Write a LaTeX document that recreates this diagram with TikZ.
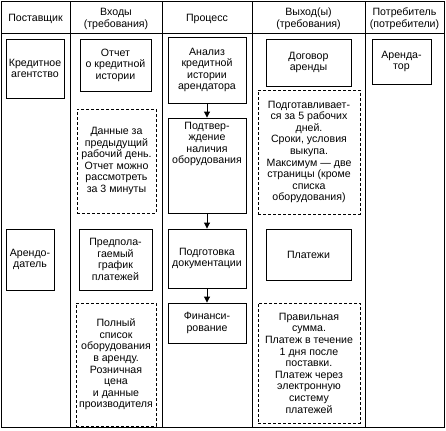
\documentclass[tikz,border=0pt]{standalone}
\usepackage{fontspec}
\setmainfont{Liberation Sans}
\usetikzlibrary{arrows.meta}
\begin{document}
\begin{tikzpicture}[x=1bp,y=-1bp,
  every node/.style={font=\fontsize{10.6bp}{11.6bp}\selectfont, align=center, inner sep=0pt},
  solidbox/.style={draw, line width=0.9bp},
  dashbox/.style={draw, line width=0.9bp, dash pattern=on 3bp off 2bp},
  frame/.style={line width=0.9bp},
  flow/.style={line width=0.9bp, -{Triangle[length=6bp,width=6bp]}}]
\useasboundingbox (0,0) rectangle (446,430);
% frame
\draw[frame] (1.5,1.5) rectangle (444,427.5);
\draw[frame] (1.5,33) -- (444,33);
\foreach \x in {70,162,252.5,365} \draw[frame] (\x,1.5) -- (\x,427.5);
% headers
\node (h1) at (35.5,19) {Поставщик};
\node (h2) at (116,19) {Входы\\(требования)};
\node (h3) at (207,19) {Процесс};
\node (h4) at (308.5,19) {Выход(ы)\\(требования)};
\node (h5) at (404.5,19) {Потребитель\\(потребители)};
% supplier column
\node[solidbox, minimum width=58bp, minimum height=59bp] (ka) at (35,68.5) {Кредитное\\агентство};
\node[solidbox, minimum width=48bp, minimum height=61bp] (ad) at (30,259.5) {Арендо-\\датель};
% inputs column
\node[solidbox, minimum width=71bp, minimum height=52bp] (otch) at (115.5,65) {Отчет\\о кредитной\\истории};
\node[dashbox, minimum width=79bp, minimum height=104bp] (d1) at (116.5,161) {Данные за\\предыдущий\\рабочий день.\\Отчет можно\\рассмотреть\\за 3 минуты};
\node[solidbox, minimum width=73bp, minimum height=61bp] (pg) at (115.5,259.5) {Предпола-\\гаемый\\график\\платежей};
\node[dashbox, minimum width=80bp, minimum height=123bp] (d3) at (116,364.5) {Полный\\список\\оборудования\\в аренду.\\Розничная\\цена\\и данные\\производителя};
% process column
\node[solidbox, minimum width=78bp, minimum height=66bp] (an) at (207,70) {Анализ\\кредитной\\истории\\арендатора};
\node[solidbox, minimum width=78bp, minimum height=95bp] (pt) at (207,165.5) {};
\node[anchor=north] (ptt) at ([yshift=-4bp]pt.north) {Подтвер-\\ждение\\наличия\\оборудования};
\node[solidbox, minimum width=78bp, minimum height=59bp] (pd) at (207,258.5) {Подготовка\\документации};
\node[solidbox, minimum width=78bp, minimum height=40bp] (fn) at (207,323) {Финанси-\\рование};
\draw[flow] (an.south) -- (pt.north);
\draw[flow] (pt.south) -- (pd.north);
\draw[flow] (pd.south) -- (fn.north);
% outputs column
\node[solidbox, minimum width=85bp, minimum height=47bp] (dog) at (308.5,62.5) {Договор\\аренды};
\node[dashbox, minimum width=102bp, minimum height=124bp] (d2) at (309,152) {Подготавливает-\\ся за 5 рабочих\\дней.\\Сроки, условия\\выкупа.\\Максимум — две\\страницы (кроме\\списка\\оборудования)};
\node[solidbox, minimum width=85bp, minimum height=51bp] (pl) at (308.5,254.5) {Платежи};
\node[dashbox, minimum width=102bp, minimum height=120bp] (d4) at (309,363) {Правильная\\сумма.\\Платеж в течение\\1 дня после\\поставки.\\Платеж через\\электронную\\систему\\платежей};
% consumers column
\node[solidbox, minimum width=59bp, minimum height=45bp] (ar) at (401.5,61.5) {Аренда-\\тор};
\end{tikzpicture}
\end{document}
